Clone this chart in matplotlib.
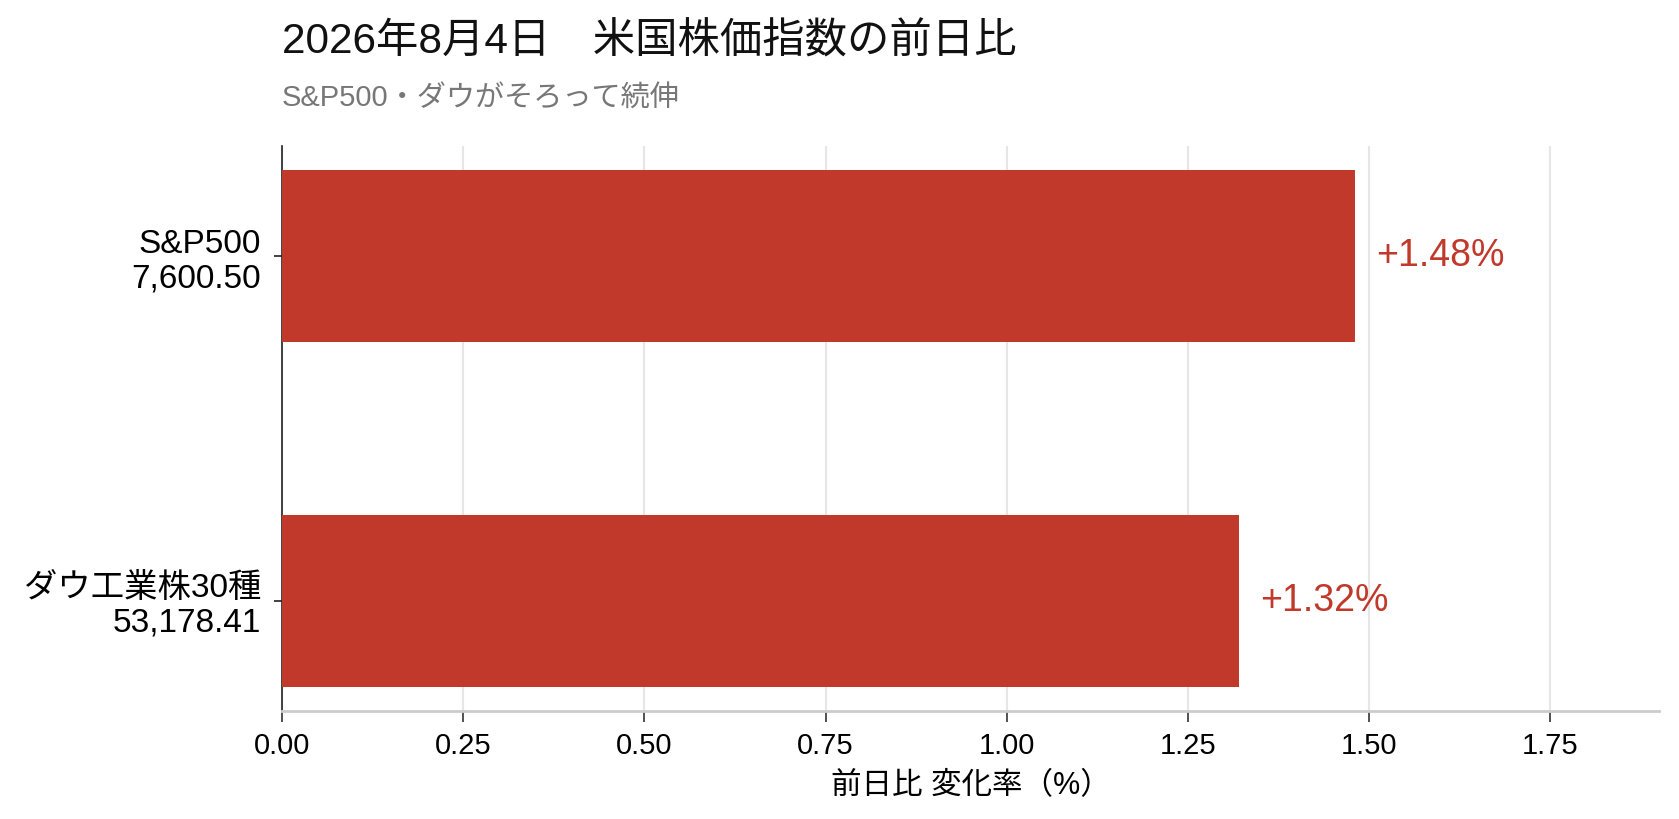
import matplotlib
matplotlib.use("Agg")
import matplotlib.pyplot as plt

# data
indices = ["ダウ工業株30種", "S&P500"]
closes = ["53,178.41", "7,600.50"]
changes = [1.32, 1.48]
xticks = [0.00, 0.25, 0.50, 0.75, 1.00, 1.25, 1.50, 1.75]

title = "2026年8月4日　米国株価指数の前日比"
subtitle = "S&P500・ダウがそろって続伸"
xlabel = "前日比 変化率（%）"

plt.rcParams["font.family"] = ["Liberation Sans", "Noto Sans CJK JP", "DejaVu Sans"]

bar_color = "#C0392B"

fig = plt.figure(figsize=(16.79, 8.19), dpi=100)
ax = fig.add_axes([282 / 1679, 1 - 711 / 819, (1659 - 282) / 1679, (711 - 146) / 819])

ypos = list(range(len(indices)))
ax.barh(ypos, changes, height=0.5, color=bar_color, zorder=3)

# value labels
for y, v in zip(ypos, changes):
    ax.text(v + 0.03, y, f"+{v:.2f}%", va="center", ha="left",
            fontsize=27, color=bar_color)

ax.set_xlim(0, 1.9)
ax.set_ylim(-0.32, 1.32)
ax.set_xticks(xticks)
ax.set_xticklabels([f"{t:.2f}" for t in xticks], fontsize=21)
ax.set_yticks(ypos)
ax.set_yticklabels([f"{n}\n{c}" for n, c in zip(indices, closes)],
                   fontsize=24, linespacing=1.15)
ax.set_xlabel(xlabel, fontsize=22, labelpad=8)

ax.grid(axis="x", color="#e6e6e6", linewidth=1.5, zorder=0)
ax.set_axisbelow(True)

for s in ["top", "right"]:
    ax.spines[s].set_visible(False)
ax.spines["left"].set_color("#222222")
ax.spines["left"].set_linewidth(1.2)
ax.spines["bottom"].set_color("#cccccc")
ax.spines["bottom"].set_linewidth(2)

ax.tick_params(axis="x", length=8, width=1.2, color="#333333", pad=7)
ax.tick_params(axis="y", length=6, width=1.2, color="#222222", pad=9)

fig.text(282 / 1679, 1 - 54 / 819, title, fontsize=30.5, color="#111111",
         ha="left", va="baseline")
fig.text(282 / 1679, 1 - 107 / 819, subtitle, fontsize=21, color="#777777",
         ha="left", va="baseline")

fig.savefig("out.png", dpi=100)
